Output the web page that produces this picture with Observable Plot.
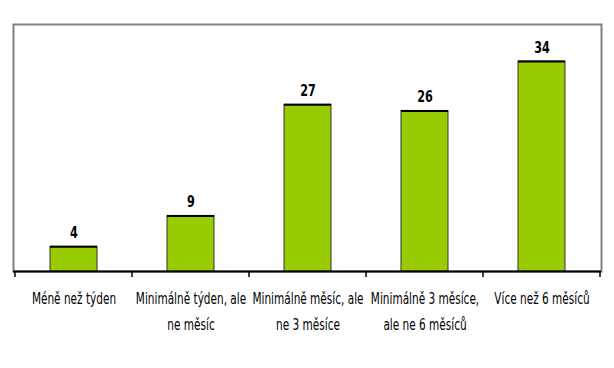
<!DOCTYPE html>
<html>
<head>
<meta charset="utf-8">
<script src="https://cdn.jsdelivr.net/npm/d3@7"></script>
<script src="https://cdn.jsdelivr.net/npm/@observablehq/plot@0.6"></script>
<style>
  html, body { margin: 0; padding: 0; background: #fff; }
  #chart svg { display: block; }
</style>
</head>
<body>
<div id="chart"></div>
<script>
const categories = [
  "Méně než týden",
  "Minimálně týden, ale ne měsíc",
  "Minimálně měsíc, ale ne 3 měsíce",
  "Minimálně 3 měsíce, ale ne 6 měsíců",
  "Více než 6 měsíců"
];
const tickLabels = [
  "Méně než týden",
  "Minimálně týden, ale\nne měsíc",
  "Minimálně měsíc, ale\nne 3 měsíce",
  "Minimálně 3 měsíce,\nale ne 6 měsíců",
  "Více než 6 měsíců"
];
const values = [4, 9, 27, 26, 34];

const data = categories.map((c, i) => ({cat: c, label: tickLabels[i], value: values[i]}));

const font = "'DejaVu Sans Condensed', 'DejaVu Sans', sans-serif";

function boundaryTicks(index, scales) {
  const x = scales.x, y = scales.y;
  const step = x(categories[1]) - x(categories[0]);
  const bw = typeof x.bandwidth === "function" ? x.bandwidth() : step * 0.4;
  const gap = (step - bw) / 2;
  const xs = categories.map(c => x(c) - gap);
  xs.push(x(categories[categories.length - 1]) + bw + gap);
  const y0 = y(0);
  const g = d3.create("svg:g");
  g.selectAll("line").data(xs).join("line")
    .attr("x1", d => d).attr("x2", d => d)
    .attr("y1", y0).attr("y2", y0 + 6)
    .attr("stroke", "#000").attr("stroke-width", 1.5);
  return g.node();
}

const chart = Plot.plot({
  width: 614,
  height: 368,
  marginTop: 24,
  marginBottom: 97,
  marginLeft: 13,
  marginRight: 13,
  style: {background: "#fff", fontFamily: font, fontStretch: "condensed"},
  x: {domain: categories, paddingInner: 0.6, paddingOuter: 0.3, axis: null},
  y: {domain: [0, 40], axis: null},
  marks: [
    Plot.frame({stroke: "#808080", strokeWidth: 2}),
    Plot.barY(data, {x: "cat", y: "value", fill: "#99cc00", stroke: "#333", strokeWidth: 1}),
    Plot.tickY(data, {x: "cat", y: "value", stroke: "#000", strokeWidth: 2}),
    Plot.ruleY([0], {stroke: "#000", strokeWidth: 2}),
    boundaryTicks,
    Plot.text(data, {x: "cat", y: "value", text: d => String(d.value), dy: -9, lineAnchor: "bottom",
      fontWeight: "bold", fontSize: 16, fill: "#020202"}),
    Plot.text(data, {x: "cat", y: 0, text: "label", dy: 14, lineAnchor: "top", lineHeight: 1.73,
      fontSize: 15, fill: "#010101"})
  ]
});
document.getElementById("chart").appendChild(chart);

// narrow the glyphs horizontally, like the condensed face of the original
d3.select(chart).selectAll('g[fill="#010101"] text, g[fill="#020202"] text').each(function() {
  const t = this.getAttribute("transform") || "";
  const x0 = +(this.getAttribute("x") || 0);
  this.setAttribute("transform", `${t} translate(${x0},0) scale(0.78,1) translate(${-x0},0)`);
});
</script>
</body>
</html>
